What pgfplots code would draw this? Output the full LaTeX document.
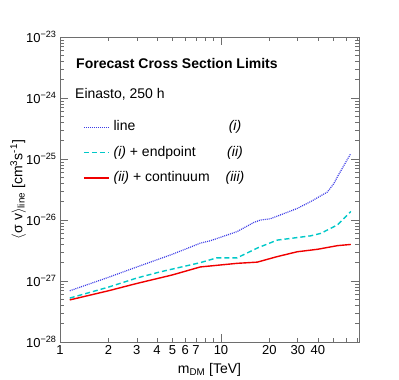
\documentclass[border=0pt]{standalone}
\usepackage{pgfplots}
\pgfplotsset{compat=1.18}
\usepackage{fontspec}
\setmainfont{Liberation Sans}
\definecolor{axgray}{RGB}{110,110,110}
\definecolor{lineblue}{RGB}{60,60,230}
\definecolor{linecyan}{RGB}{0,200,200}
\definecolor{linered}{RGB}{240,0,0}
\begin{document}
\begin{tikzpicture}
\useasboundingbox (0,0) rectangle (399pt,380pt);
\begin{axis}[
  at={(60pt,38pt)}, anchor=south west,
  scale only axis, width=299pt, height=305pt,
  xmode=log, ymode=log,
  xmin=1, xmax=72, ymin=1e-28, ymax=1e-23,
  axis line style={draw=axgray, line width=1pt},
  every tick/.style={axgray, line width=0.6pt},
  tick align=inside,
  xtick pos=both, ytick pos=both,
  major tick length=8pt, minor tick length=4pt,
  xtick={1,10},
  xticklabels={1,10},
  extra x ticks={2,3,4,5,6,7,20,30,40},
  extra x tick labels={2,3,4,5,6,7,20,30,40},
  extra x tick style={/pgfplots/major tick length=4pt},
  minor xtick={8,9,50,60,70},
  ytick={1e-28,1e-27,1e-26,1e-25,1e-24,1e-23},
  yticklabels={10\textsuperscript{−28},10\textsuperscript{−27},10\textsuperscript{−26},10\textsuperscript{−25},10\textsuperscript{−24},10\textsuperscript{−23}},
  minor ytick={2e-28,3e-28,4e-28,5e-28,6e-28,7e-28,8e-28,9e-28,
               2e-27,3e-27,4e-27,5e-27,6e-27,7e-27,8e-27,9e-27,
               2e-26,3e-26,4e-26,5e-26,6e-26,7e-26,8e-26,9e-26,
               2e-25,3e-25,4e-25,5e-25,6e-25,7e-25,8e-25,9e-25,
               2e-24,3e-24,4e-24,5e-24,6e-24,7e-24,8e-24,9e-24},
  tick label style={font=\fontsize{13}{15}\selectfont},
  /pgf/number format/assume math mode=true,
  xlabel={m\textsubscript{DM} [TeV]},
  ylabel={$\langle$σ v$\rangle$\textsubscript{line} [cm\textsuperscript{3}s\textsuperscript{-1}]},
  label style={font=\fontsize{14}{16}\selectfont},
  xlabel style={at={(axis description cs:0.5,-0.092)}, anchor=center},
  ylabel style={at={(axis description cs:-0.14,0.5)}, anchor=center},
  legend image code/.code={\draw[#1] (0pt,0pt) -- (25pt,0pt);},
  legend cell align=left,
  legend style={at={(axis description cs:0.0769,0.6207)}, anchor=west,
    draw=none, fill=none, inner sep=0pt, row sep=8.3pt, column sep=2pt,
    font=\fontsize{14}{16}\selectfont,
    nodes={inner sep=2pt, text height=10pt, text depth=3pt}},
]
\addplot[color=lineblue, line width=1.2pt, dash pattern=on 1pt off 1pt] coordinates {
 (1.15,6.92e-28) (2,1.15e-27) (3,1.70e-27) (5,2.75e-27) (7.43,4.17e-27) (8.58,4.57e-27)
 (12.6,6.46e-27) (13.2,6.92e-27) (16,9.12e-27) (17.6,1.0e-26) (20.3,1.05e-26) (29.8,1.55e-26)
 (36,2.0e-26) (45.8,2.88e-26) (50.3,3.98e-26) (52.9,5.13e-26) (58.1,7.9e-26) (64,1.23e-25)
};
\addlegendentry{line}
\addplot[color=linecyan, line width=1.4pt, dash pattern=on 5pt off 3pt] coordinates {
 (1.15,5.25e-28) (2,7.94e-28) (3,1.12e-27) (4.18,1.41e-27) (7.43,2.0e-27) (9.44,2.40e-27)
 (12.6,2.40e-27) (16.8,3.47e-27) (22.3,4.68e-27) (36,5.50e-27) (41.6,6.03e-27)
 (52.9,8.32e-27) (64,1.38e-26)
};
\addlegendentry{\textit{(i)} + endpoint}
\addplot[color=linered, line width=1.4pt] coordinates {
 (1.15,4.90e-28) (2,6.92e-28) (3,9.12e-28) (5,1.26e-27) (7.43,1.70e-27) (12.6,1.95e-27)
 (16.8,2.04e-27) (22.3,2.51e-27) (29.8,3.02e-27) (39.7,3.31e-27) (52.9,3.80e-27) (64,3.98e-27)
};
\addlegendentry{\textit{(ii)} + continuum}
\end{axis}
% texts
\node[anchor=west, font=\fontsize{14}{16}\selectfont\bfseries, inner sep=0pt] at (76pt,316pt) {Forecast Cross Section Limits};
\node[anchor=west, font=\fontsize{14}{16}\selectfont, inner sep=0pt] at (75pt,286pt) {Einasto, 250 h};
\node[font=\fontsize{14}{16}\selectfont, inner sep=0pt] at (235pt,253pt) {\textit{(i)}};
\node[font=\fontsize{14}{16}\selectfont, inner sep=0pt] at (235pt,227.3pt) {\textit{(ii)}};
\node[font=\fontsize{14}{16}\selectfont, inner sep=0pt] at (235pt,202.3pt) {\textit{(iii)}};
\end{tikzpicture}
\end{document}
